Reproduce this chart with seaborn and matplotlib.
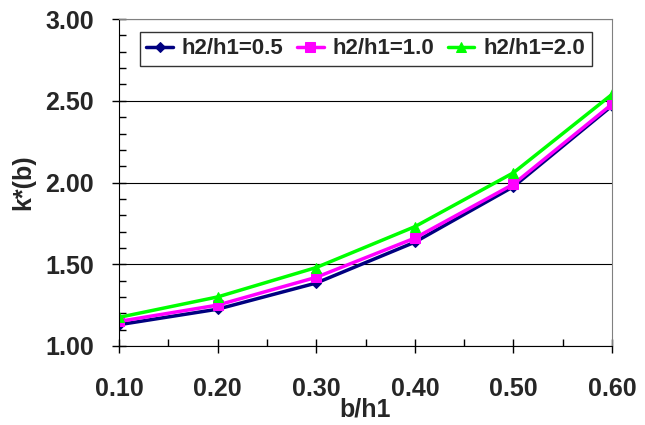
import pandas as pd
import seaborn as sns
import matplotlib.pyplot as plt
from matplotlib.ticker import MultipleLocator

b_h1 = [0.10, 0.20, 0.30, 0.40, 0.50, 0.60]
k_05 = [1.13, 1.225, 1.385, 1.635, 1.975, 2.47]
k_10 = [1.15, 1.25, 1.42, 1.66, 1.99, 2.48]
k_20 = [1.175, 1.30, 1.48, 1.73, 2.06, 2.54]

series = ['h2/h1=0.5', 'h2/h1=1.0', 'h2/h1=2.0']
colores = ['#000080', '#ff00ff', '#00ff00']
marcas = ['D', 's', '^']

df = pd.DataFrame({'b': b_h1 * 3,
                   'k': k_05 + k_10 + k_20,
                   'serie': [s for s in series for _ in b_h1]})

sns.set_style('ticks')
plt.rcParams['font.family'] = ['Liberation Sans', 'DejaVu Sans']
plt.rcParams['font.weight'] = 'bold'

fig = plt.figure(figsize=(6.45, 4.25), dpi=100)
ax = fig.add_axes([0.1845, 0.186, 0.7645, 0.769])

for s, c, m in zip(series, colores, marcas):
    sns.lineplot(x='b', y='k', data=df[df['serie'] == s], ax=ax, color=c,
                 marker=m, markersize=7 if m != 'D' else 5, markeredgecolor=c,
                 linewidth=2.5, label=s)

ax.set_xlim(0.10, 0.60)
ax.set_ylim(1.0, 3.0)
ax.xaxis.set_major_locator(MultipleLocator(0.1))
ax.xaxis.set_minor_locator(MultipleLocator(0.05))
ax.yaxis.set_major_locator(MultipleLocator(0.5))
ax.yaxis.set_minor_locator(MultipleLocator(0.1))
ax.xaxis.set_major_formatter(plt.FormatStrFormatter('%.2f'))
ax.yaxis.set_major_formatter(plt.FormatStrFormatter('%.2f'))

ax.grid(axis='y', which='major', color='black', linewidth=0.8)
ax.set_axisbelow(True)
ax.tick_params(which='major', direction='inout', length=10, width=1,
               color='black', labelsize=18, bottom=True, left=True)
ax.tick_params(axis='x', which='major', pad=17)
ax.tick_params(axis='y', which='major', pad=13)
ax.tick_params(which='minor', direction='in', length=5, width=1,
               color='black', bottom=True, left=True)
for lab in ax.get_xticklabels() + ax.get_yticklabels():
    lab.set_fontweight('bold')

for lado in ['left', 'bottom']:
    ax.spines[lado].set_color('black')
for lado in ['top', 'right']:
    ax.spines[lado].set_visible(True)
    ax.spines[lado].set_color('#808080')

ax.set_xlabel('b/h1', fontsize=18, fontweight='bold', labelpad=-2)
ax.set_ylabel('k*(b)', fontsize=18, fontweight='bold', labelpad=7)

leg = ax.legend(loc='upper center', bbox_to_anchor=(0.5, 0.975), ncol=3,
                fontsize=16, frameon=True, fancybox=False, handlelength=1.2,
                handletextpad=0.4, columnspacing=0.6, borderpad=0.3,
                borderaxespad=0.2)
leg.get_frame().set_edgecolor('black')
leg.get_frame().set_linewidth(1)
for t in leg.get_texts():
    t.set_fontweight('bold')

plt.savefig('out.png', dpi=100)
